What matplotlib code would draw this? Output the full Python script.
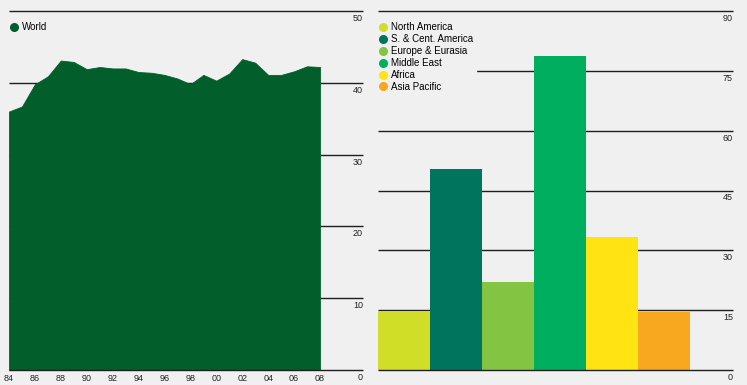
import matplotlib
matplotlib.use("Agg")
import matplotlib.pyplot as plt
from matplotlib.lines import Line2D
import matplotlib.transforms as mtransforms

# ---- data ----
years = list(range(1984, 2009))
world = [36.0, 36.7, 39.8, 40.9, 43.1, 42.9, 41.9, 42.2, 42.0, 42.0, 41.5, 41.4,
         41.1, 40.6, 39.8, 41.1, 40.3, 41.3, 43.3, 42.8, 41.1, 41.1, 41.6, 42.3, 42.2]
year_ticks = list(range(1984, 2009, 2))
year_labels = ["84", "86", "88", "90", "92", "94", "96", "98", "00", "02", "04", "06", "08"]
left_yticks = [0, 10, 20, 30, 40, 50]

regions = ["North America", "S. & Cent. America", "Europe & Eurasia",
           "Middle East", "Africa", "Asia Pacific"]
region_values = [14.8, 50.3, 22.1, 78.6, 33.4, 14.5]
right_yticks = [0, 15, 30, 45, 60, 75, 90]

# ---- style ----
BG = "#eff0ef"
WORLD_C = "#025f2b"
REG_C = ["#d1de27", "#00745c", "#84c443", "#00ae60", "#ffe312", "#f8a81e"]
GRID_C = "#1e1e1e"
TXT_C = "#222222"
FONT = ["Liberation Sans", "DejaVu Sans"]
plt.rcParams["font.family"] = FONT

W, H = 747, 385
fig = plt.figure(figsize=(W / 100, H / 100), dpi=100, facecolor=BG)

def rect(x0, x1, ytop, ybot):
    return [x0 / W, 1 - ybot / H, (x1 - x0) / W, (ybot - ytop) / H]

axL = fig.add_axes(rect(9, 363, 11, 370))
axR = fig.add_axes(rect(378, 733, 11, 370))

label_off = mtransforms.ScaledTranslation(0, -3 / 100, fig.dpi_scale_trans)

for ax in (axL, axR):
    ax.set_facecolor(BG)
    for s in ax.spines.values():
        s.set_visible(False)
    ax.tick_params(axis="y", left=False, right=False, labelleft=False, labelright=False)

leg_kw = dict(loc="upper left", bbox_to_anchor=(0.0, 0.977), fontsize=7,
              handletextpad=0.6, borderpad=0.3, labelspacing=0.2,
              handlelength=0.4, borderaxespad=0.0, fancybox=False)
grid_kw = dict(color=GRID_C, lw=1.0, clip_on=False, solid_capstyle="butt")

# ---- left: world area ----
axL.set_xlim(1984, 2011.32)
axL.set_ylim(0, 50)
for v in left_yticks:
    axL.axhline(v, zorder=3 if v == 0 else 1, **grid_kw)
    axL.text(1.0, v, str(v), transform=axL.get_yaxis_transform() + label_off,
             ha="right", va="top", fontsize=6.5, color=TXT_C)
axL.fill_between(years, world, 0, color=WORLD_C, lw=0.6, edgecolor=WORLD_C, zorder=2)
axL.set_xticks(year_ticks)
axL.set_xticklabels(year_labels, fontsize=6.5, color=TXT_C)
axL.tick_params(axis="x", length=0, pad=3)
axL.legend(handles=[Line2D([], [], marker="o", ls="", color=WORLD_C, markersize=5.5)],
           labels=["World"], frameon=False, **leg_kw)

# ---- right: regional bars ----
pos = list(range(len(regions)))
axR.set_xlim(-0.5, 6.33)
axR.set_ylim(0, 90)
for v in right_yticks:
    axR.axhline(v, zorder=3 if v == 0 else 1, **grid_kw)
    axR.text(1.0, v, str(v), transform=axR.get_yaxis_transform() + label_off,
             ha="right", va="top", fontsize=6.5, color=TXT_C)
axR.bar(pos, region_values, width=1.0, color=REG_C, zorder=2)
axR.set_xticks([])
handles = [Line2D([], [], marker="o", ls="", color=c, markersize=5.5) for c in REG_C]
lgR = axR.legend(handles=handles, labels=regions, frameon=True, **leg_kw)
lgR.get_frame().set_facecolor(BG)
lgR.get_frame().set_edgecolor(BG)
lgR.get_frame().set_alpha(1.0)
lgR.set_zorder(5)

fig.savefig("out.png", dpi=100, facecolor=BG)
